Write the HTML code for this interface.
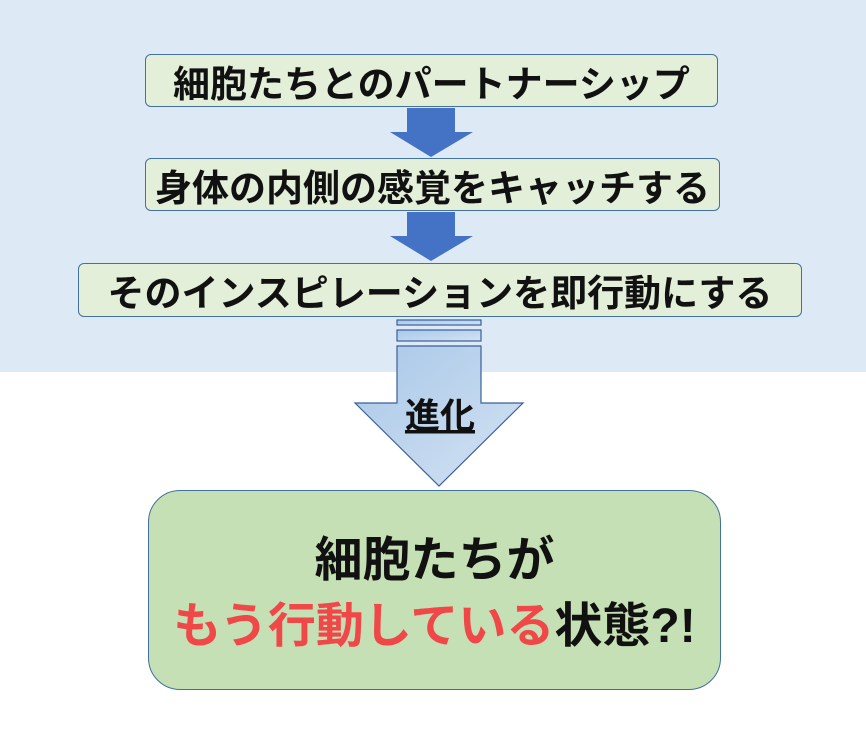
<!DOCTYPE html>
<html><head><meta charset="utf-8"><style>
body{margin:0;width:866px;height:744px;background:#fff;position:relative;overflow:hidden;font-family:"Liberation Sans","Noto Sans CJK JP",sans-serif}
.bg{position:absolute;left:0;top:0;width:866px;height:372px;background:#dde9f5}
.b{position:absolute;background:#e3efd9;border:1px solid #41719c;border-radius:6px;box-sizing:border-box;display:flex;align-items:center;justify-content:center;font-size:37px;font-weight:bold;color:#111;white-space:nowrap;letter-spacing:0px}
.big{position:absolute;left:148px;top:490px;width:573px;height:200px;background:#c5e0b4;border:1px solid #41719c;border-radius:32px;box-sizing:border-box;text-align:center;font-size:48px;font-weight:bold;line-height:66px;padding-top:37px;color:#111;white-space:nowrap}
</style></head><body>
<div class="bg"></div>
<div class="b" style="left:145px;top:54px;width:573px;height:53px">細胞たちとのパートナーシップ</div>
<div class="b" style="left:145px;top:158px;width:575px;height:53px">身体の内側の感覚をキャッチする</div>
<div class="b" style="left:78px;top:263px;width:724px;height:54px">そのインスピレーションを即行動にする</div>
<svg style="position:absolute;left:0;top:0" width="866" height="744">
<defs><linearGradient id="g" x1="0" y1="0" x2="1" y2="1"><stop offset="0" stop-color="#a9c8e8"/><stop offset="1" stop-color="#d3e2f3"/></linearGradient></defs>
<polygon points="407,108 455,108 455,132 473,132 431,157 390,132 407,132" fill="#4472c4"/>
<polygon points="407,212 455,212 455,236 473,236 431,261 390,236 407,236" fill="#4472c4"/>
<rect x="397" y="320" width="84" height="5" fill="url(#g)" stroke="#3a5f9a" stroke-width="1.2"/>
<rect x="397" y="330" width="84" height="11" fill="url(#g)" stroke="#3a5f9a" stroke-width="1.2"/>
<polygon points="397,346 481,346 481,403 523,403 439,486 355,403 397,403" fill="url(#g)" stroke="#3a5f9a" stroke-width="1.2"/>
<text x="440" y="428" text-anchor="middle" font-size="35" font-weight="bold" font-family="Liberation Sans,Noto Sans CJK JP,sans-serif" fill="#111" text-decoration="underline">進化</text>
</svg>
<div class="big">細胞たちが<br><span style="color:#f04848">もう行動している</span>状態?!</div>
</body></html>
